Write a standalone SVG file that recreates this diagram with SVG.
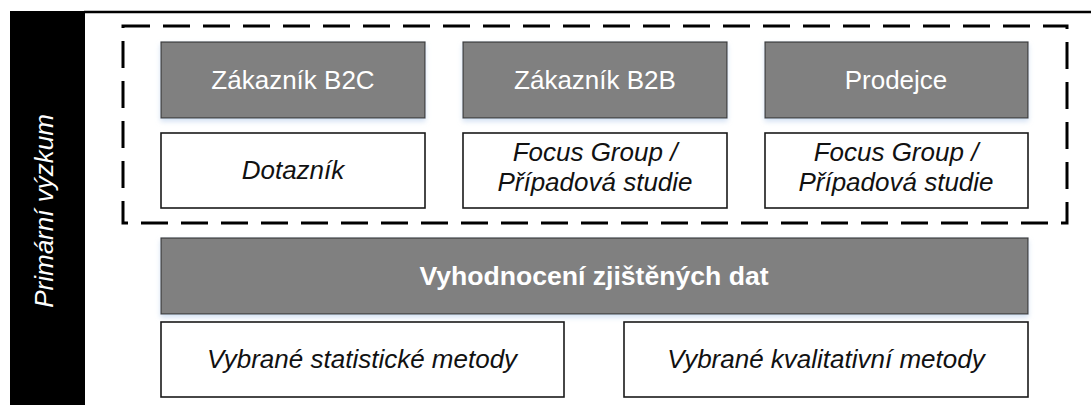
<svg xmlns="http://www.w3.org/2000/svg" width="1091" height="405" viewBox="0 0 1091 405">
  <style>
    .head { fill: #808080; stroke: #3a3a3a; stroke-width: 1.2; filter: url(#glow); }
    .box { fill: #ffffff; stroke: #1a1a1a; stroke-width: 1.6; }
    .t { font-family: "Liberation Sans", Arial, sans-serif; font-size: 26px; text-anchor: middle; }
    .w { fill: #ffffff; }
    .k { fill: #111111; font-style: italic; }
    .b { font-weight: bold; font-size: 26.6px; }
  </style>
  <defs>
    <filter id="glow" x="-5%" y="-20%" width="110%" height="150%">
      <feDropShadow dx="0" dy="3" stdDeviation="2.5" flood-color="#c9daf0" flood-opacity="0.8"/>
    </filter>
  </defs>

  <rect width="1091" height="405" fill="#ffffff"/>

  <!-- side band and top frame line -->
  <g id="side-band">
    <rect x="10" y="11" width="75" height="394" fill="#000000"/>
    <line x1="84" y1="12" x2="1091" y2="12" stroke="#000000" stroke-width="2.4"/>
    <text class="t" transform="translate(53,211) rotate(-90)" fill="#ffffff" font-style="italic">Primární výzkum</text>
  </g>

  <!-- dashed grouping frame -->
  <g id="connectors">
    <rect x="123" y="26" width="944" height="197" fill="none" stroke="#000000" stroke-width="3" stroke-dasharray="27 13"/>
  </g>

  <g id="b2c">
    <rect class="head" x="161" y="42" width="264" height="76"/>
    <text class="t w" x="293" y="89">Zákazník B2C</text>
  </g>
  <g id="b2b">
    <rect class="head" x="463" y="42" width="264" height="76"/>
    <text class="t w" x="595" y="89">Zákazník B2B</text>
  </g>
  <g id="prodejce">
    <rect class="head" x="765" y="42" width="263" height="76"/>
    <text class="t w" x="896" y="89">Prodejce</text>
  </g>

  <g id="dotaznik">
    <rect class="box" x="161" y="133" width="264" height="75"/>
    <text class="t k" x="293" y="179">Dotazník</text>
  </g>
  <g id="focus-b2b">
    <rect class="box" x="463" y="133" width="264" height="75"/>
    <text class="t k" x="595" y="161">Focus Group /</text>
    <text class="t k" x="595" y="191">Případová studie</text>
  </g>
  <g id="focus-prodejce">
    <rect class="box" x="765" y="133" width="263" height="75"/>
    <text class="t k" x="896" y="161">Focus Group /</text>
    <text class="t k" x="896" y="191">Případová studie</text>
  </g>

  <g id="vyhodnoceni">
    <rect class="head" x="161" y="238" width="867" height="76"/>
    <text class="t w b" x="594" y="285">Vyhodnocení zjištěných dat</text>
  </g>

  <g id="statisticke">
    <rect class="box" x="161" y="322" width="403" height="75"/>
    <text class="t k" x="362" y="368">Vybrané statistické metody</text>
  </g>
  <g id="kvalitativni">
    <rect class="box" x="624" y="322" width="404" height="75"/>
    <text class="t k" x="826" y="368">Vybrané kvalitativní metody</text>
  </g>
</svg>
